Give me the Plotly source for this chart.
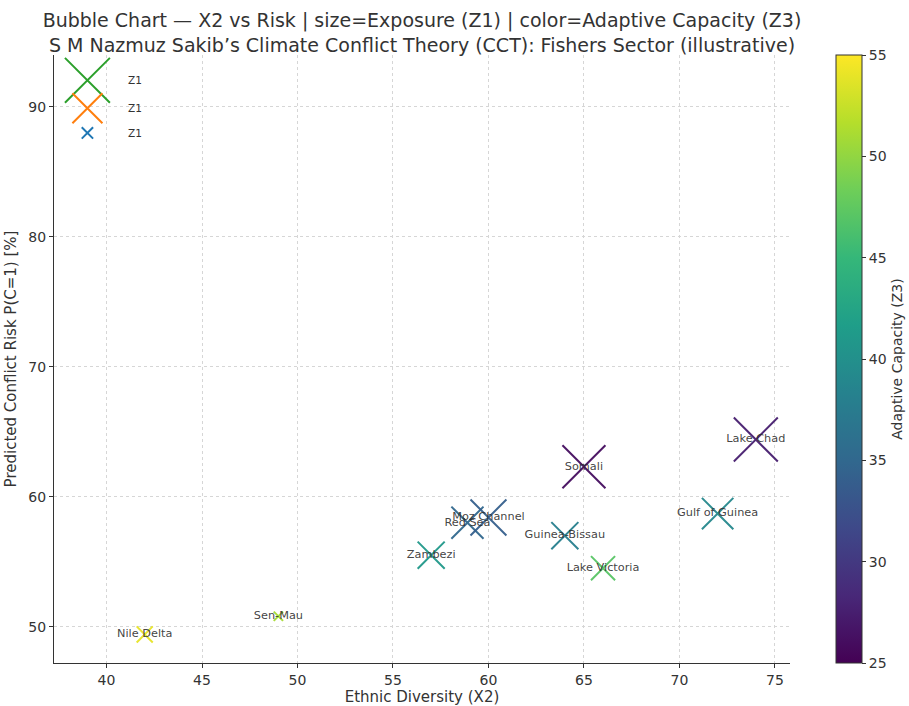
import plotly.graph_objects as go

# Fishers-sector regions
regions = ["Nile Delta", "Sen-Mau", "Zambezi", "Red Sea", "Moz Channel",
           "Guinea-Bissau", "Lake Victoria", "Somali", "Gulf of Guinea", "Lake Chad"]
ethnic_diversity_x2 = [42.0, 49.0, 57.0, 58.9, 60.0, 64.0, 66.0, 65.0, 72.0, 74.0]
conflict_risk = [49.4, 50.8, 55.5, 58.0, 58.4, 57.0, 54.5, 62.3, 58.7, 64.4]
exposure_z1 = [12, 4, 34, 48, 60, 34, 27, 86, 46, 90]
adaptive_capacity_z3 = [54, 51, 41, 35, 34, 38, 47, 26, 39, 27.5]

# Size key entries
key_exposure = [94, 42, 6]
key_risk = [92.05, 89.9, 88.0]
key_x = [39.0, 39.0, 39.0]
key_colors = ["#2ca02c", "#ff7f0e", "#1f77b4"]
key_label = "Z1"

x_ticks = [40, 45, 50, 55, 60, 65, 70, 75]
y_ticks = [50, 60, 70, 80, 90]
cbar_ticks = [25, 30, 35, 40, 45, 50, 55]

FONT = "DejaVu Sans"
SIZEREF = 2 / 21.5

fig = go.Figure()

fig.add_trace(go.Scatter(
    x=ethnic_diversity_x2, y=conflict_risk,
    mode="markers+text",
    text=regions,
    textposition="middle center",
    textfont=dict(family=FONT, size=11.3, color="rgba(45,45,45,0.9)"),
    marker=dict(
        symbol="x-thin", opacity=0.95,
        size=exposure_z1, sizemode="area", sizeref=SIZEREF,
        color=adaptive_capacity_z3, colorscale="Viridis", cmin=25, cmax=55,
        line=dict(color=adaptive_capacity_z3, colorscale="Viridis",
                  cmin=25, cmax=55, width=2),
        showscale=True,
        colorbar=dict(
            x=1.0625, xanchor="left", xref="paper", xpad=0,
            y=0.5, yanchor="middle", len=1, lenmode="fraction", ypad=0,
            thickness=26, outlinewidth=1, outlinecolor="#333",
            tickvals=cbar_ticks, ticks="outside", ticklen=4,
            tickcolor="#333",
            tickfont=dict(family=FONT, size=14, color="#333"),
            title=dict(text="Adaptive Capacity (Z3)", side="right",
                       font=dict(family=FONT, size=14, color="#333")),
        ),
    ),
    showlegend=False,
    hoverinfo="skip",
))

fig.add_trace(go.Scatter(
    x=key_x, y=key_risk, mode="markers",
    marker=dict(symbol="x-thin", size=key_exposure, sizemode="area",
                sizeref=SIZEREF, color=key_colors, opacity=1,
                line=dict(color=key_colors, width=2)),
    showlegend=False, hoverinfo="skip",
))

for yv in key_risk:
    fig.add_annotation(x=41.0, y=yv, text=key_label, showarrow=False,
                       xanchor="left", yanchor="middle",
                       font=dict(family=FONT, size=10.5, color="#333"))

fig.update_layout(
    width=909, height=706,
    margin=dict(l=54, r=119, t=55, b=43, autoexpand=False),
    paper_bgcolor="white", plot_bgcolor="white",
    font=dict(family=FONT, color="#333"),
    title=dict(
        text="Bubble Chart — X2 vs Risk | size=Exposure (Z1) | color=Adaptive Capacity (Z3)"
             "<br>S M Nazmuz Sakib’s Climate Conflict Theory (CCT): Fishers Sector (illustrative)",
        x=0.5, xref="paper", xanchor="center",
        y=0.962, yref="container", yanchor="top",
        font=dict(family=FONT, size=19, color="#333"),
    ),
)

fig.update_xaxes(
    range=[37.25, 75.79], tickvals=x_ticks,
    showgrid=True, gridcolor="#d6d6d6", griddash="dot", gridwidth=1,
    zeroline=False, showline=True, linecolor="#333", linewidth=1.2,
    ticks="outside", ticklen=4, tickcolor="#333",
    tickfont=dict(family=FONT, size=14, color="#333"),
    title=dict(text="Ethnic Diversity (X2)", standoff=5,
               font=dict(family=FONT, size=15, color="#333")),
)
fig.update_yaxes(
    range=[47.2, 94.0], tickvals=y_ticks,
    showgrid=True, gridcolor="#d6d6d6", griddash="dot", gridwidth=1,
    zeroline=False, showline=True, linecolor="#333", linewidth=1.2,
    ticks="outside", ticklen=4, tickcolor="#333",
    tickfont=dict(family=FONT, size=14, color="#333"),
    title=dict(text="Predicted Conflict Risk P(C=1) [%]", standoff=8,
               font=dict(family=FONT, size=15, color="#333")),
)

fig.write_html("out.html")
